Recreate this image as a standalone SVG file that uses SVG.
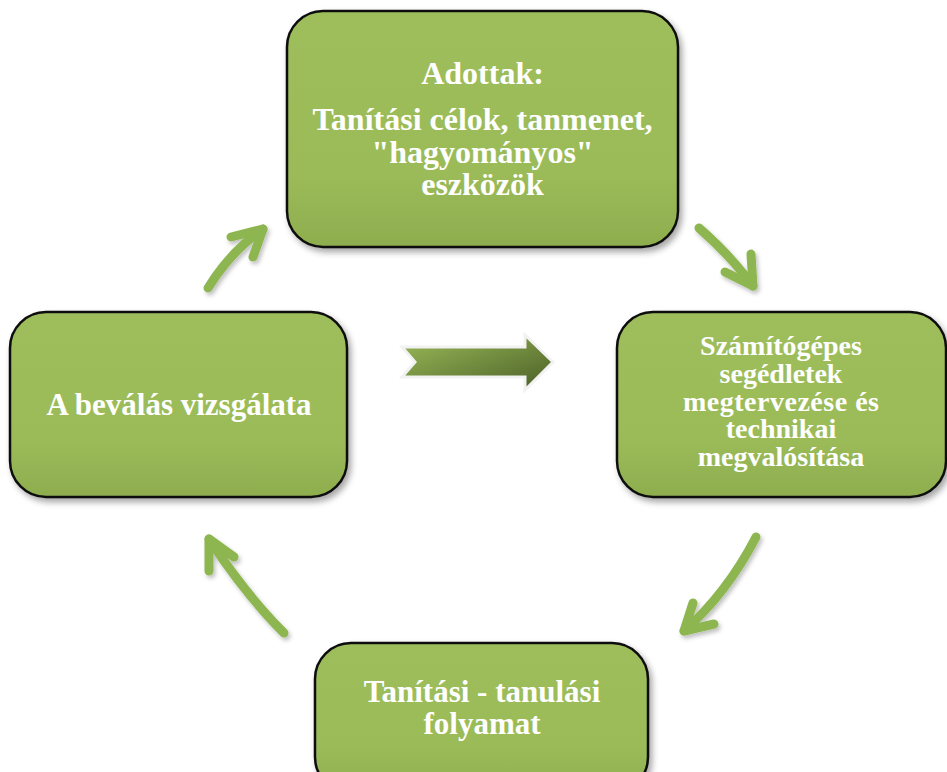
<svg xmlns="http://www.w3.org/2000/svg" width="947" height="772" viewBox="0 0 947 772">
<defs>
<linearGradient id="boxFill" x1="0" y1="0" x2="0" y2="1">
<stop offset="0" stop-color="#9EBE5B"/>
<stop offset="0.7" stop-color="#9BBB59"/>
<stop offset="1" stop-color="#8EAD4E"/>
</linearGradient>
<linearGradient id="blockFill" x1="0" y1="0" x2="1" y2="1">
<stop offset="0" stop-color="#9BBB59"/>
<stop offset="1" stop-color="#4A5E26"/>
</linearGradient>
<filter id="shadow" x="-10%" y="-10%" width="130%" height="130%">
<feDropShadow dx="3" dy="4" stdDeviation="3" flood-color="#000" flood-opacity="0.35"/>
</filter>
<filter id="soft" x="-20%" y="-20%" width="140%" height="140%">
<feDropShadow dx="2" dy="3" stdDeviation="2" flood-color="#000" flood-opacity="0.25"/>
</filter>
<filter id="glow" x="-100%" y="-10%" width="300%" height="120%">
<feGaussianBlur stdDeviation="1.2"/>
</filter>
</defs>
<style>
.box{fill:url(#boxFill);stroke:#111;stroke-width:2.5;filter:url(#shadow);}
.hl{stroke:#F8FFE0;stroke-width:3.5;stroke-linecap:round;opacity:0.95;filter:url(#glow);}
.t{font-family:"Liberation Serif","Times New Roman",serif;font-weight:bold;fill:#fff;text-anchor:middle;}
.arr{fill:none;stroke:#8DB651;stroke-width:9;stroke-linecap:round;stroke-linejoin:round;}
</style>
<g id="connectors" filter="url(#soft)">
<path class="arr" d="M208,288 Q230,252 263,229"/>
<polyline class="arr" points="231,237 263,229 253,257"/>
<path class="arr" d="M699,228 Q730,255 753,286"/>
<polyline class="arr" points="751,254 753,286 725,272"/>
<path class="arr" d="M756,537 Q727,593 684,631"/>
<polyline class="arr" points="693,603 684,631 714,624"/>
<path class="arr" d="M284,633 Q246,595 209,539"/>
<polyline class="arr" points="209,571 209,539 234,557"/>
</g>
<g id="center-arrow">
<polygon points="402,347 525,347 525,335 553,362 525,390 525,377 402,377 415,362" fill="url(#blockFill)" stroke="#F2F2F2" stroke-width="3" stroke-linejoin="miter"/>
</g>
<g id="node-top">
<rect class="box" x="287" y="11" width="391" height="236" rx="36"/>
<line class="hl" x1="300" y1="45" x2="300" y2="215"/>
<line class="hl" x1="665" y1="45" x2="665" y2="215"/>
<text class="t" font-size="32" x="482.5" y="84">Adottak:</text>
<text class="t" font-size="32" x="482.5" y="130">Tanítási célok, tanmenet,</text>
<text class="t" font-size="32" x="482.5" y="163">"hagyományos"</text>
<text class="t" font-size="32" x="482.5" y="195">eszközök</text>
</g>
<g id="node-right">
<rect class="box" x="617" y="312" width="329" height="185" rx="36"/>
<line class="hl" x1="631" y1="340" x2="631" y2="470"/>
<line class="hl" x1="933" y1="340" x2="933" y2="470"/>
<text class="t" font-size="28" x="781" y="355">Számítógépes</text>
<text class="t" font-size="28" x="781" y="383">segédletek</text>
<text class="t" font-size="28" x="781" y="411" textLength="196">megtervezése és</text>
<text class="t" font-size="28" x="781" y="438">technikai</text>
<text class="t" font-size="28" x="781" y="466">megvalósítása</text>
</g>
<g id="node-left">
<rect class="box" x="10" y="312" width="337" height="185" rx="36"/>
<line class="hl" x1="24" y1="340" x2="24" y2="470"/>
<line class="hl" x1="333" y1="340" x2="333" y2="470"/>
<text class="t" font-size="31" x="179" y="415">A beválás vizsgálata</text>
</g>
<g id="node-bottom">
<rect class="box" x="315" y="643" width="333" height="150" rx="36"/>
<line class="hl" x1="329" y1="665" x2="329" y2="760"/>
<line class="hl" x1="634" y1="665" x2="634" y2="760"/>
<text class="t" font-size="31" x="482" y="702">Tanítási - tanulási</text>
<text class="t" font-size="31" x="482" y="734">folyamat</text>
</g>
</svg>
